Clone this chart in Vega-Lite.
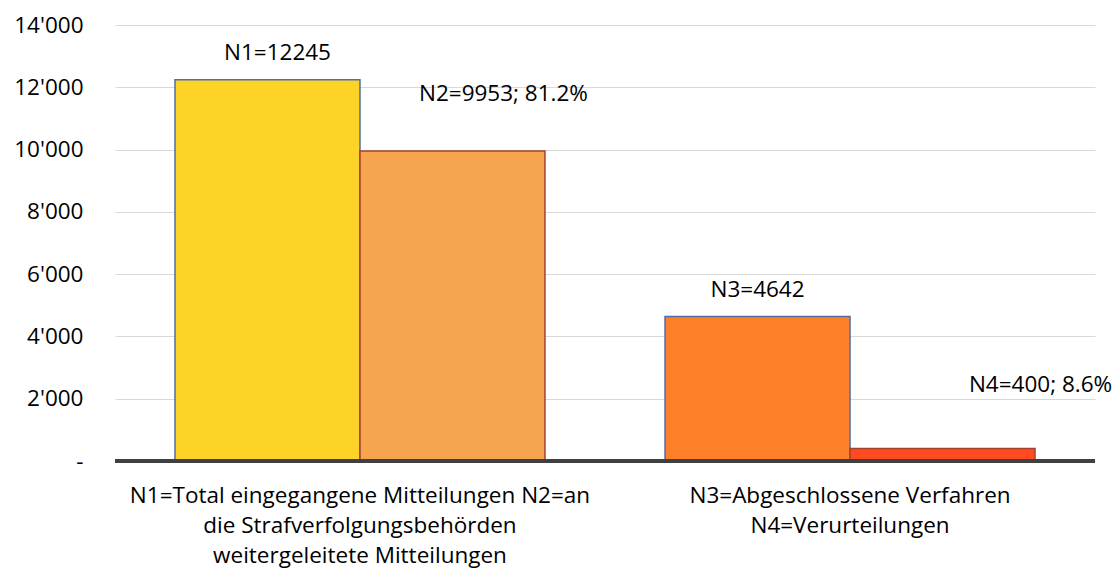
{
  "$schema": "https://vega.github.io/schema/vega-lite/v6.json",
  "autosize": {"type": "none"},
  "width": 980,
  "height": 436,
  "padding": {"left": 115, "top": 25, "right": 23, "bottom": 111},
  "background": "white",
  "config": {
    "view": {"stroke": null},
    "font": "Open Sans",
    "text": {"font": "Open Sans"}
  },
  "data": {
    "values": [
      {"cat": "N1=Total eingegangene Mitteilungen N2=an|die Strafverfolgungsbehörden|weitergeleitete Mitteilungen", "pos": 1, "name": "N1", "value": 12245, "label": "N1=12245"},
      {"cat": "N1=Total eingegangene Mitteilungen N2=an|die Strafverfolgungsbehörden|weitergeleitete Mitteilungen", "pos": 2, "name": "N2", "value": 9953, "label": "N2=9953; 81.2%"},
      {"cat": "N3=Abgeschlossene Verfahren|N4=Verurteilungen", "pos": 1, "name": "N3", "value": 4642, "label": "N3=4642"},
      {"cat": "N3=Abgeschlossene Verfahren|N4=Verurteilungen", "pos": 2, "name": "N4", "value": 400, "label": "N4=400; 8.6%"}
    ]
  },
  "encoding": {
    "x": {
      "field": "cat",
      "type": "nominal",
      "sort": null,
      "scale": {"paddingInner": 0.245, "paddingOuter": 0.1224},
      "axis": {
        "title": null,
        "labelAngle": 0,
        "labelExpr": "split(datum.label, '|')",
        "labelFont": "Open Sans",
        "labelFontSize": 22.5,
        "labelColor": "#000000",
        "labelLineHeight": 30,
        "labelPadding": 23,
        "labelLimit": 0,
        "ticks": false,
        "domain": false,
        "grid": false
      }
    },
    "xOffset": {"field": "pos", "type": "ordinal", "scale": {"paddingInner": 0, "paddingOuter": 0}},
    "y": {
      "field": "value",
      "type": "quantitative",
      "scale": {"domain": [0, 14000], "nice": false},
      "axis": {
        "title": null,
        "values": [0, 2000, 4000, 6000, 8000, 10000, 12000, 14000],
        "labelExpr": "datum.value == 0 ? '-\u00a0\u00a0' : replace(format(datum.value, ','), ',', \"'\")",
        "labelFont": "Open Sans",
        "labelFontSize": 22.5,
        "labelColor": "#000000",
        "labelPadding": 32,
        "ticks": false,
        "domain": false,
        "grid": true,
        "gridColor": "#d9d9d9",
        "gridWidth": 1
      }
    }
  },
  "layer": [
    {
      "mark": {"type": "bar", "strokeWidth": 1.5},
      "encoding": {
        "color": {
          "field": "name",
          "type": "nominal",
          "scale": {"domain": ["N1", "N2", "N3", "N4"], "range": ["#FDD328", "#F5A54E", "#FD7F27", "#FF4A22"]},
          "legend": null
        },
        "stroke": {
          "field": "name",
          "type": "nominal",
          "scale": {"domain": ["N1", "N2", "N3", "N4"], "range": ["#4F6EA8", "#A5412F", "#4F6EA8", "#A5412F"]},
          "legend": null
        }
      }
    },
    {
      "mark": {"type": "rule", "color": "#404040", "strokeWidth": 4},
      "encoding": {"y": {"datum": 0}, "x": null, "xOffset": null}
    },
    {
      "transform": [{"filter": "datum.name == 'N1'"}],
      "mark": {"type": "text", "fontSize": 22.5, "font": "Open Sans", "color": "#000000", "baseline": "middle", "dx": 10, "dy": -27},
      "encoding": {"text": {"field": "label"}}
    },
    {
      "transform": [{"filter": "datum.name == 'N2'"}],
      "mark": {"type": "text", "fontSize": 22.5, "font": "Open Sans", "color": "#000000", "baseline": "middle", "dx": 51, "dy": -57},
      "encoding": {"text": {"field": "label"}}
    },
    {
      "transform": [{"filter": "datum.name == 'N3'"}],
      "mark": {"type": "text", "fontSize": 22.5, "font": "Open Sans", "color": "#000000", "baseline": "middle", "dx": 0, "dy": -26},
      "encoding": {"text": {"field": "label"}}
    },
    {
      "transform": [{"filter": "datum.name == 'N4'"}],
      "mark": {"type": "text", "fontSize": 22.5, "font": "Open Sans", "color": "#000000", "baseline": "middle", "dx": 98, "dy": -64},
      "encoding": {"text": {"field": "label"}}
    }
  ]
}
